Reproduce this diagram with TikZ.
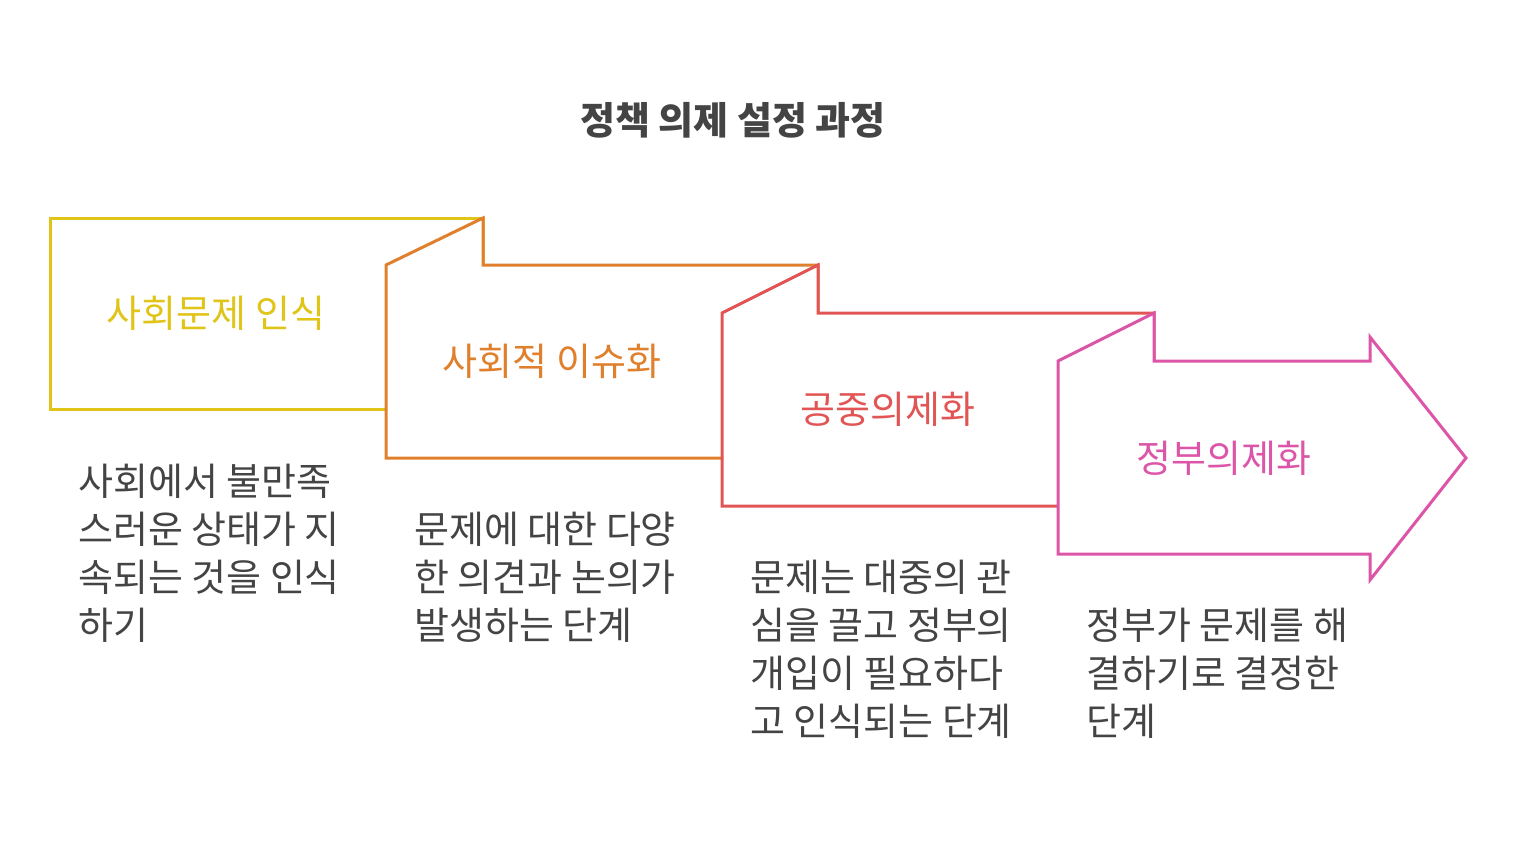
\documentclass[tikz,border=0pt]{standalone}
\usepackage{fontspec}
\setmainfont{Noto Sans CJK KR}
\definecolor{cy}{HTML}{E0C418}
\definecolor{co}{HTML}{E0802C}
\definecolor{cr}{HTML}{E25555}
\definecolor{cp}{HTML}{DD55A8}
\definecolor{tx}{HTML}{444444}
\begin{document}
\begin{tikzpicture}[x=1pt,y=-1pt,
  shp/.style={line width=3pt,fill=white,line join=miter},
  lab/.style={font=\fontsize{38}{40}\selectfont},
  desc/.style={anchor=north west,align=left,text=tx,inner sep=0pt,font=\fontsize{38}{48}\selectfont}]
\useasboundingbox (0,0) rectangle (1517,844);
\node[text=tx,font=\bfseries\fontsize{38}{40}\selectfont] (title) at (733,120) {정책 의제 설정 과정};
\draw[shp,draw=cy] (50,218) -- (483,218) -- (483,409) -- (50,409) -- cycle;
\draw[shp,draw=co] (386,265) -- (483,218) -- (483,265) -- (818,265) -- (818,458) -- (386,458) -- cycle;
\draw[shp,draw=cr] (722,313) -- (818,265) -- (818,313) -- (1154,313) -- (1154,506) -- (722,506) -- cycle;
\draw[shp,draw=cp] (1058,361) -- (1154,313) -- (1154,361) -- (1370,361) -- (1370,337) -- (1466,458) -- (1370,580) -- (1370,554) -- (1058,554) -- cycle;
\node[lab,text=cy] (l1) at (216,313) {사회문제 인식};
\node[lab,text=co] (l2) at (552,361) {사회적 이슈화};
\node[lab,text=cr] (l3) at (888,409) {공중의제화};
\node[lab,text=cp] (l4) at (1224,458) {정부의제화};
\node[desc] (d1) at (78,464) {사회에서 불만족\\스러운 상태가 지\\속되는 것을 인식\\하기};
\node[desc] (d2) at (414,512) {문제에 대한 다양\\한 의견과 논의가\\발생하는 단계};
\node[desc] (d3) at (750,560) {문제는 대중의 관\\심을 끌고 정부의\\개입이 필요하다\\고 인식되는 단계};
\node[desc] (d4) at (1086,608) {정부가 문제를 해\\결하기로 결정한\\단계};
\end{tikzpicture}
\end{document}
